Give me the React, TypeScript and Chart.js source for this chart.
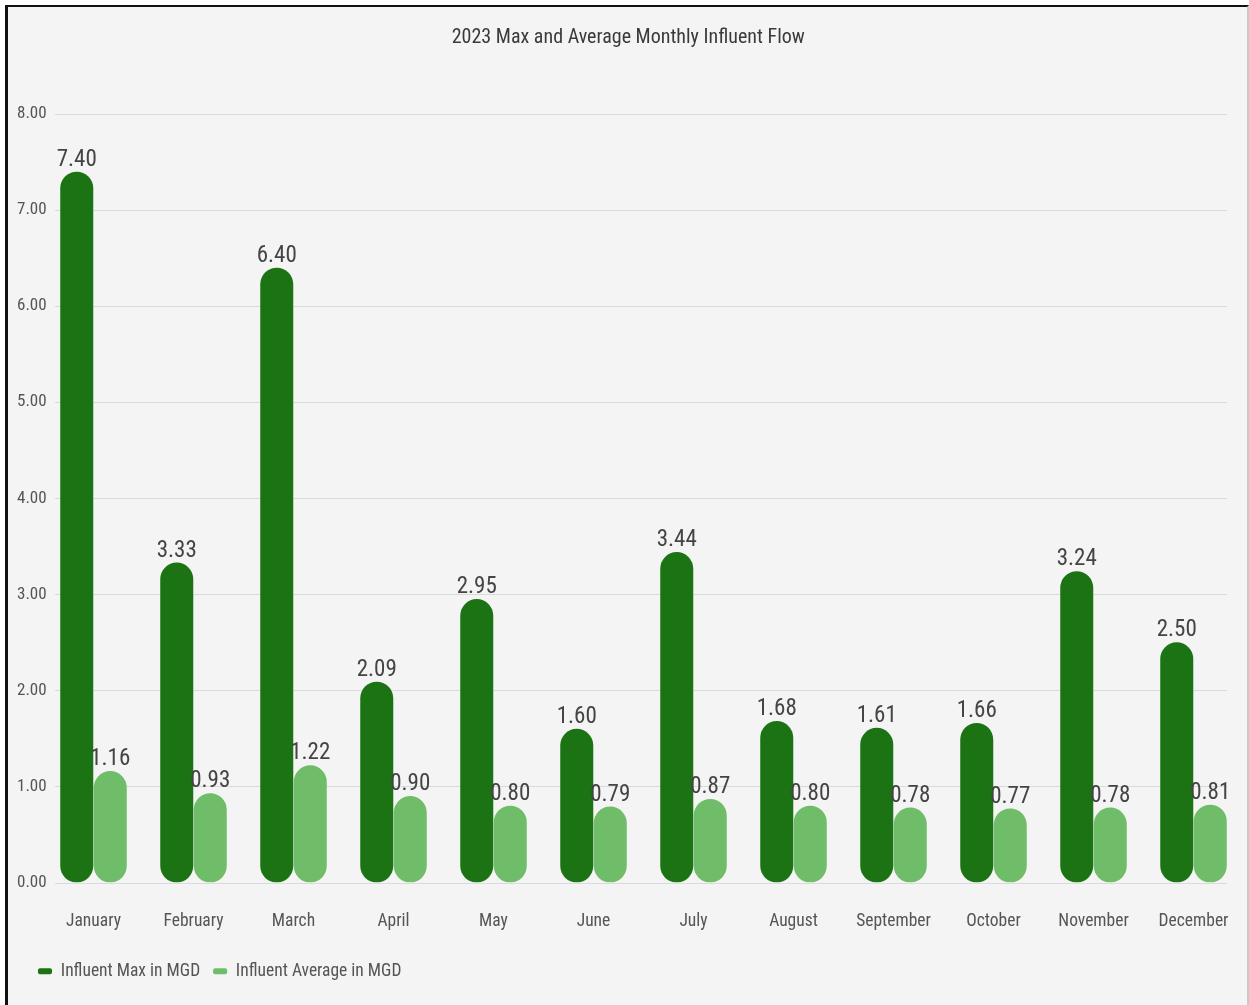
import React, { useEffect, useRef } from "react";
import { Chart, registerables } from "chart.js";

Chart.register(...registerables);

const months = ["January", "February", "March", "April", "May", "June", "July", "August", "September", "October", "November", "December"];
const influentMax = [7.4, 3.33, 6.4, 2.09, 2.95, 1.6, 3.44, 1.68, 1.61, 1.66, 3.24, 2.5];
const influentAvg = [1.16, 0.93, 1.22, 0.9, 0.8, 0.79, 0.87, 0.8, 0.78, 0.77, 0.78, 0.81];
const seriesNames = ["Influent Max in MGD", "Influent Average in MGD"];
const chartTitle = "2023 Max and Average Monthly Influent Flow";

const FONT = "'Roboto Condensed', 'Liberation Sans Narrow', 'DejaVu Sans Condensed', Roboto, sans-serif";

const gridPlugin = {
  id: "customGrid",
  beforeDatasetsDraw(chart: any) {
    const y = chart.scales.y;
    const area = chart.chartArea;
    const ctx = chart.ctx;
    ctx.save();
    ctx.strokeStyle = "#dadada";
    ctx.lineWidth = 1;
    y.ticks.forEach((t: any) => {
      const py = Math.round(y.getPixelForValue(t.value)) + 0.5;
      ctx.beginPath();
      ctx.moveTo(area.left + 11.5, py);
      ctx.lineTo(area.right - 16.5, py);
      ctx.stroke();
    });
    ctx.restore();
  },
};

const labelPlugin = {
  id: "valueLabels",
  afterDatasetsDraw(chart: any) {
    const ctx = chart.ctx;
    ctx.save();
    ctx.font = `normal 23px ${FONT}`;
    ctx.fillStyle = "#444444";
    ctx.textAlign = "center";
    ctx.textBaseline = "alphabetic";
    chart.data.datasets.forEach((ds: any, di: number) => {
      const meta = chart.getDatasetMeta(di);
      meta.data.forEach((bar: any, i: number) => {
        const v = ds.data[i] as number;
        ctx.fillText(v.toFixed(2), bar.x, bar.y - 6);
      });
    });
    ctx.restore();
  },
};

const legendShiftPlugin = {
  id: "legendShift",
  afterLayout(chart: any) {
    if (chart.legend) chart.legend.left = 25;
  },
};

export default function App() {
  const ref = useRef<HTMLCanvasElement | null>(null);

  useEffect(() => {
    if (!ref.current) return;
    const chart = new Chart(ref.current, {
      type: "bar",
      data: {
        labels: months,
        datasets: [
          {
            label: seriesNames[0],
            data: influentMax,
            backgroundColor: "#1b7314",
            borderWidth: 0,
            borderRadius: 20,
            borderSkipped: false,
            categoryPercentage: 0.67,
            barPercentage: 0.985,
          },
          {
            label: seriesNames[1],
            data: influentAvg,
            backgroundColor: "#6fbd68",
            borderWidth: 0,
            borderRadius: 20,
            borderSkipped: false,
            categoryPercentage: 0.67,
            barPercentage: 0.985,
          },
        ],
      },
      options: {
        responsive: false,
        animation: false,
        devicePixelRatio: 1,
        layout: { padding: { left: 13, right: 5.5, top: 0, bottom: 15 } },
        font: { family: FONT },
        plugins: {
          title: {
            display: true,
            text: chartTitle,
            color: "#3a3a3a",
            font: { family: FONT, size: 20, weight: "normal", lineHeight: 1.2 },
            padding: { top: 26, bottom: 64 },
          },
          legend: {
            display: true,
            position: "bottom",
            align: "start",
            labels: {
              color: "#555555",
              font: { family: FONT, size: 17.5 },
              boxWidth: 14,
              boxHeight: 6,
              padding: 13,
              useBorderRadius: true,
              borderRadius: 2,
            },
          },
          tooltip: { enabled: false },
        },
        scales: {
          x: {
            grid: { display: false, drawTicks: false, tickLength: 0 },
            border: { display: false },
            ticks: {
              color: "#555555",
              font: { family: FONT, size: 17.5, lineHeight: 4.45 },
              padding: 0,
              maxRotation: 0,
              autoSkip: false,
            },
            afterFit: (s: any) => { s.height = 67; },
          },
          y: {
            min: 0,
            max: 8,
            grid: { display: false, drawTicks: false, tickLength: 0 },
            border: { display: false },
            ticks: {
              stepSize: 1,
              mirror: true,
              crossAlign: "near",
              color: "#555555",
              font: { family: FONT, size: 17 },
              padding: -26.5,
              callback: (v: any) => Number(v).toFixed(2),
            },
            afterFit: (s: any) => { s.width = 30.5; },
          },
        },
      },
      plugins: [gridPlugin, labelPlugin, legendShiftPlugin],
    });
    return () => chart.destroy();
  }, []);

  return (
    <div style={{ position: "absolute", left: 0, top: 0, width: 1249, height: 1005, background: "#ffffff", overflow: "hidden" }}>
      <div
        style={{
          position: "absolute",
          left: 5,
          top: 5,
          width: 1239,
          height: 1020,
          background: "#f4f4f4",
          borderLeft: "3px solid #111111",
          borderTop: "2px solid #111111",
          borderRight: "2px solid #c8c8c8",
        }}
      />
      <canvas ref={ref} width={1249} height={1005} style={{ position: "absolute", left: 0, top: 0, width: 1249, height: 1005 }} />
    </div>
  );
}
